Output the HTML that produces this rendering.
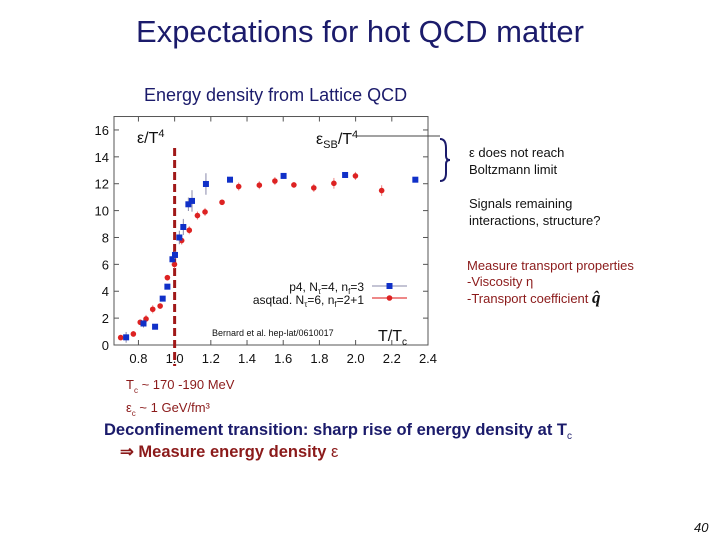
<!DOCTYPE html>
<html><head><meta charset="utf-8"><style>
body{margin:0;width:720px;height:540px;background:#fff;position:relative;overflow:hidden;font-family:"Liberation Sans",sans-serif}
.t{position:absolute;white-space:nowrap}
.sb{font-size:8px;position:relative;top:4px}
</style></head><body>
<div class="t" style="left:0;width:720px;text-align:center;top:14px;font-size:31px;color:#1b1b6b">Expectations for hot QCD matter</div>
<div class="t" style="left:144px;top:85px;font-size:18px;color:#1b1b6b">Energy density from Lattice QCD</div>
<div class="t" style="left:469px;top:144px;font-size:13px;line-height:17px;color:#111">ε does not reach<br>Boltzmann limit</div>
<div class="t" style="left:469px;top:195px;font-size:13px;line-height:17px;color:#111">Signals remaining<br>interactions, structure?</div>
<div class="t" style="left:467px;top:258px;font-size:13px;line-height:16px;color:#8b1a1a">Measure transport properties<br>-Viscosity η<br>-Transport coefficient <span style="font-family:'Liberation Serif',serif;font-style:italic;font-size:17px;font-weight:bold;color:#111;line-height:16px">q̂</span></div>
<div class="t" style="left:126px;top:374px;font-size:13px;line-height:21px;color:#8b1a1a">T<span class="sb">c</span> ~ 170 -190 MeV<br>ε<span class="sb">c</span> ~ 1 GeV/fm³</div>
<div class="t" style="left:104px;top:421px;font-size:16.5px;font-weight:bold;color:#1b1b6b">Deconfinement transition: sharp rise of energy density at T<span style="font-size:10px;font-weight:normal;position:relative;top:4px">c</span></div>
<div class="t" style="left:120px;top:442px;font-size:16.5px;font-weight:bold;color:#8b1a1a">⇒ Measure energy density <span style="font-weight:normal">ε</span></div>
<div class="t" style="left:694px;top:520px;font-size:13px;font-style:italic;color:#111">40</div>
<svg id="chart" width="720" height="540" style="position:absolute;left:0;top:0" xmlns="http://www.w3.org/2000/svg"></svg>
<script>
const xTicks=[0.8,1.0,1.2,1.4,1.6,1.8,2.0,2.2,2.4];
const xTickLabels=["0.8","1.0","1.2","1.4","1.6","1.8","2.0","2.2","2.4"];
const yTicks=[0,2,4,6,8,10,12,14,16];
const blueT=[0.732,0.828,0.892,0.934,0.96,0.988,1.002,1.026,1.048,1.076,1.096,1.173,1.306,1.602,1.942,2.33];
const blueE=[0.57,1.6,1.36,3.45,4.34,6.38,6.7,8.0,8.78,10.47,10.72,11.98,12.3,12.58,12.65,12.3];
const blueErr=[0.4,0.3,0.1,0.1,0.1,0.3,0.3,0.5,0.6,0.5,0.8,0.8,0.1,0.2,0.15,0.1];
const redT=[0.702,0.772,0.81,0.842,0.879,0.92,0.96,0.999,1.039,1.081,1.126,1.168,1.262,1.354,1.468,1.554,1.659,1.769,1.88,1.999,2.144];
const redE=[0.55,0.82,1.69,1.94,2.66,2.9,5.01,6.0,7.77,8.54,9.63,9.9,10.62,11.79,11.89,12.2,11.91,11.69,12.03,12.58,11.49];
const redErr=[0.2,0.2,0.2,0.3,0.3,0.2,0.2,0.3,0.3,0.3,0.3,0.3,0.2,0.3,0.3,0.3,0.2,0.3,0.4,0.3,0.4];
const X0=114,X1=428,XMIN=0.665,XMAX=2.4,YB=345,PY=13.44;
const sx=v=>X0+(v-XMIN)/(XMAX-XMIN)*(X1-X0);
const sy=v=>YB-v*PY;
const svg=document.getElementById('chart');
const NS='http://www.w3.org/2000/svg';
function mk(tag,attrs,parent){const e=document.createElementNS(NS,tag);for(const k in attrs)e.setAttribute(k,attrs[k]);(parent||svg).appendChild(e);return e;}
const frame=mk('rect',{x:X0,y:sy(17),width:X1-X0,height:YB-sy(17),fill:'none',stroke:'#555','stroke-width':1});


xTicks.forEach((v,i)=>{
  mk('line',{x1:sx(v),x2:sx(v),y1:YB,y2:YB-5,stroke:'#555'});
  mk('line',{x1:sx(v),x2:sx(v),y1:sy(17),y2:sy(17)+5,stroke:'#555'});
  const t=mk('text',{x:sx(v),y:YB+18,'text-anchor':'middle','font-size':13,fill:'#111'});
  t.textContent=xTickLabels[i];
  
  
});
yTicks.forEach(v=>{
  mk('line',{x1:X0,x2:X0+5,y1:sy(v),y2:sy(v),stroke:'#555'});
  mk('line',{x1:X1,x2:X1-5,y1:sy(v),y2:sy(v),stroke:'#555'});
  const t=mk('text',{x:X0-5,y:sy(v)+5,'text-anchor':'end','font-size':13,fill:'#111'});
  t.textContent=String(v);
  
  
});
const tc=mk('line',{x1:sx(1.0),x2:sx(1.0),y1:148,y2:366,stroke:'#a01818','stroke-width':3,'stroke-dasharray':'8,4'});


const sb=mk('polyline',{points:'357,136 440,136',fill:'none',stroke:'#444','stroke-width':1});


const br=mk('path',{d:'M440,139 Q446,139 446,148 L446,156 Q446,160 450,160 Q446,160 446,164 L446,173 Q446,181 440,181',fill:'none',stroke:'#1b1b6b','stroke-width':2});


redT.forEach((t,i)=>{
  mk('line',{x1:sx(t),x2:sx(t),y1:sy(redE[i]-redErr[i]),y2:sy(redE[i]+redErr[i]),stroke:'#e88'});
  const c=mk('circle',{cx:sx(t),cy:sy(redE[i]),r:2.8,fill:'#dd2222'});
  
  
});
blueT.forEach((t,i)=>{
  mk('line',{x1:sx(t),x2:sx(t),y1:sy(blueE[i]-blueErr[i]),y2:sy(blueE[i]+blueErr[i]),stroke:'#88a'});
  const r=mk('rect',{x:sx(t)-3,y:sy(blueE[i])-3,width:6,height:6,fill:'#1030c8'});
  
  
});
function txt(x,y,s,size,name,anchor){const t=mk('text',{x:x,y:y,'font-size':size,fill:'#111','text-anchor':anchor||'start'});t.innerHTML=s;return t;}
txt(137,143,'ε/T<tspan dy="-6" font-size="11">4</tspan>',16,'y-axis-title');
txt(316,144,'ε<tspan dy="4" font-size="11">SB</tspan><tspan dy="-4">/T</tspan><tspan dy="-6" font-size="11">4</tspan>',16,'sb-label');
txt(378,341,'T/T<tspan dy="4" font-size="10">c</tspan>',16,'x-axis-title');
txt(212,336,'Bernard et al. hep-lat/0610017',9,'citation');
txt(364,291,'p4, N<tspan dy="3" font-size="8">τ</tspan><tspan dy="-3">=4, n</tspan><tspan dy="3" font-size="8">f</tspan><tspan dy="-3">=3</tspan>',12,'legend-p4','end');
txt(364,304,'asqtad. N<tspan dy="3" font-size="8">τ</tspan><tspan dy="-3">=6, n</tspan><tspan dy="3" font-size="8">f</tspan><tspan dy="-3">=2+1</tspan>',12,'legend-asqtad','end');
mk('line',{x1:372,x2:407,y1:286,y2:286,stroke:'#88a'});
mk('rect',{x:386.5,y:283,width:6,height:6,fill:'#1030c8'});
mk('line',{x1:372,x2:407,y1:298,y2:298,stroke:'#e88','stroke-width':2});
mk('circle',{cx:389.5,cy:298,r:2.8,fill:'#dd2222'});
</script>
</body></html>
